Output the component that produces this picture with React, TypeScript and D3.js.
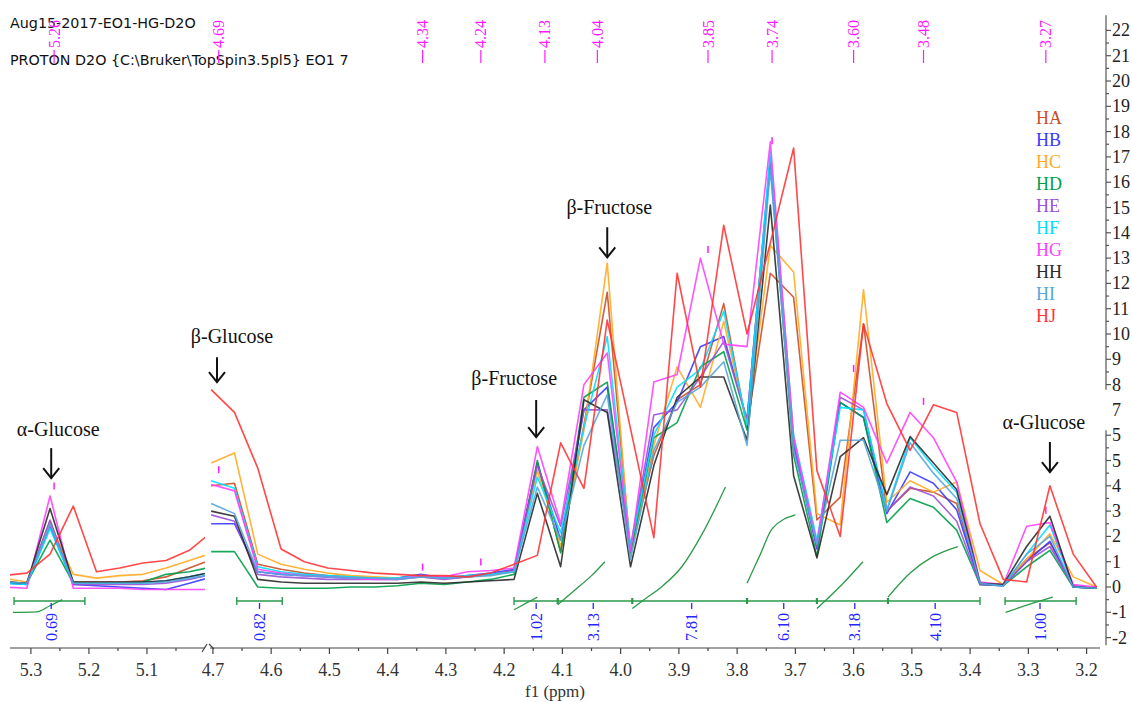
import React from "react";
import * as d3 from "d3";

// Chemical shift grid (ppm) for the two displayed windows of the spectrum
const leftPpm = [5.347, 5.307, 5.267, 5.227, 5.187, 5.147, 5.107, 5.067, 5.027, 4.987];
const rightPpm = [
  4.703, 4.663, 4.623, 4.583, 4.543, 4.503, 4.463, 4.423, 4.383, 4.343,
  4.303, 4.263, 4.223, 4.183, 4.143, 4.103, 4.063, 4.023, 3.983, 3.943,
  3.903, 3.863, 3.823, 3.783, 3.743, 3.703, 3.663, 3.623, 3.583, 3.543,
  3.503, 3.463, 3.423, 3.383, 3.343, 3.303, 3.263, 3.223, 3.183,
];

// Intensities per honey sample
const haLeft = [0.2, 0.15, 2.6, 0.2, 0.2, 0.2, 0.25, 0.4, 0.75, 1.1];
const hbLeft = [0.15, 0.1, 2.4, 0.1, 0.05, 0.0, -0.05, -0.1, 0.15, 0.4];
const hcLeft = [0.35, 0.2, 2.5, 0.5, 0.35, 0.45, 0.5, 0.75, 1.05, 1.35];
const hdLeft = [0.2, 0.15, 1.85, 0.15, 0.15, 0.15, 0.2, 0.5, 0.6, 0.8];
const heLeft = [0.2, 0.15, 2.65, 0.1, 0.1, 0.1, 0.1, 0.15, 0.3, 0.5];
const hfLeft = [0.15, 0.1, 2.3, 0.15, 0.15, 0.15, 0.15, 0.25, 0.4, 0.6];
const hgLeft = [0.0, -0.05, 3.6, -0.05, -0.05, -0.05, -0.1, -0.1, -0.1, -0.1];
const hhLeft = [0.2, 0.15, 3.1, 0.2, 0.2, 0.2, 0.2, 0.25, 0.4, 0.6];
const hiLeft = [0.2, 0.15, 2.5, 0.15, 0.15, 0.15, 0.15, 0.2, 0.35, 0.5];
const hjLeft = [0.45, 0.55, 1.3, 3.2, 0.6, 0.75, 0.95, 1.05, 1.45, 2.2];

const haRight = [4.0, 4.1, 0.9, 0.7, 0.55, 0.45, 0.4, 0.35, 0.35, 0.45, 0.35, 0.4, 0.5, 0.65, 4.9, 1.4, 6.4, 11.65, 1.4, 5.2, 7.4, 8.0, 11.2, 6.3, 12.4, 11.45, 2.65, 3.55, 10.4, 3.0, 3.9, 3.75, 3.3, 0.15, 0.1, 1.1, 1.75, 0.05, -0.05];
const hbRight = [2.5, 2.5, 0.6, 0.5, 0.45, 0.4, 0.35, 0.35, 0.35, 0.5, 0.35, 0.45, 0.55, 0.7, 4.9, 1.85, 7.0, 7.9, 1.5, 6.3, 7.3, 9.5, 9.9, 6.6, 16.9, 5.6, 1.5, 7.3, 6.7, 2.9, 4.55, 4.1, 3.05, 0.1, 0.05, 1.0, 1.8, 0.0, -0.05];
const hcRight = [4.9, 5.3, 1.3, 0.9, 0.7, 0.55, 0.45, 0.4, 0.35, 0.4, 0.35, 0.4, 0.5, 0.6, 4.6, 1.6, 6.2, 12.8, 1.2, 5.6, 8.7, 7.1, 10.5, 6.4, 13.5, 12.45, 2.9, 2.45, 11.75, 3.35, 4.2, 3.75, 4.15, 0.65, 0.1, 1.1, 2.1, 0.4, 0.0];
const hdRight = [1.4, 1.4, 0.0, -0.05, -0.05, -0.05, 0.0, 0.0, 0.05, 0.15, 0.1, 0.2, 0.3, 0.5, 5.0, 1.35, 7.5, 8.1, 1.35, 5.9, 6.5, 8.7, 9.3, 6.2, 16.8, 5.2, 1.2, 7.3, 6.7, 2.55, 3.5, 3.15, 2.25, 0.1, 0.05, 0.8, 1.45, 0.0, -0.05];
const heRight = [2.85, 2.6, 0.5, 0.4, 0.35, 0.3, 0.3, 0.3, 0.3, 0.4, 0.3, 0.4, 0.5, 0.65, 4.8, 2.4, 7.0, 7.0, 1.6, 6.8, 7.0, 8.3, 9.7, 6.6, 17.0, 5.8, 1.6, 7.5, 7.0, 3.0, 3.95, 3.6, 2.6, 0.1, 0.05, 1.0, 1.6, 0.05, -0.05];
const hfRight = [4.2, 3.9, 0.8, 0.6, 0.5, 0.45, 0.4, 0.35, 0.35, 0.45, 0.35, 0.45, 0.5, 0.6, 4.35, 2.15, 6.3, 9.9, 1.6, 6.0, 7.9, 8.6, 10.9, 6.4, 17.2, 6.0, 1.85, 7.1, 7.0, 3.05, 5.9, 4.75, 3.75, 0.15, 0.05, 1.3, 2.45, 0.0, -0.05];
const hgRight = [4.05, 3.8, 0.7, 0.55, 0.45, 0.4, 0.35, 0.3, 0.3, 0.45, 0.4, 0.6, 0.65, 0.75, 5.55, 2.5, 8.0, 9.25, 1.4, 8.1, 8.4, 13.0, 9.6, 9.5, 17.6, 5.9, 1.7, 7.7, 7.1, 4.9, 6.9, 5.9, 4.15, 0.2, 0.1, 2.4, 2.55, 0.1, 0.0];
const hhRight = [3.0, 2.8, 0.3, 0.2, 0.15, 0.15, 0.15, 0.15, 0.15, 0.2, 0.15, 0.2, 0.25, 0.3, 3.7, 0.8, 7.4, 6.9, 0.8, 4.8, 7.5, 8.3, 8.3, 5.8, 15.1, 4.4, 1.15, 5.15, 5.9, 3.65, 5.95, 4.9, 3.85, 0.15, 0.1, 1.6, 2.8, 0.0, -0.05];
const hiRight = [3.3, 2.9, 0.6, 0.5, 0.45, 0.4, 0.35, 0.35, 0.3, 0.4, 0.35, 0.4, 0.45, 0.6, 3.95, 1.85, 5.6, 7.6, 1.1, 5.4, 7.3, 7.9, 8.9, 5.6, 16.5, 5.4, 1.7, 5.8, 5.8, 3.0, 5.7, 4.5, 3.5, 0.15, 0.05, 1.3, 2.0, 0.0, -0.05];
const hjRight = [7.8, 6.9, 4.7, 1.5, 1.0, 0.75, 0.65, 0.55, 0.5, 0.45, 0.45, 0.4, 0.55, 0.9, 1.25, 5.7, 3.9, 10.55, 6.25, 1.95, 12.4, 7.9, 14.3, 10.0, 13.6, 17.35, 4.6, 2.0, 10.4, 7.25, 5.4, 7.2, 6.9, 2.5, 0.3, 0.2, 4.0, 1.3, 0.0];

const seriesNames = ["HA", "HB", "HC", "HD", "HE", "HF", "HG", "HH", "HI", "HJ"];
const seriesColors = ["#c8502a", "#3a3aff", "#ffab24", "#00a04a", "#9a52d6", "#00e0ff", "#ff40ff", "#2b2b2b", "#55a6dc", "#ff3434"];
const seriesLeft = [haLeft, hbLeft, hcLeft, hdLeft, heLeft, hfLeft, hgLeft, hhLeft, hiLeft, hjLeft];
const seriesRight = [haRight, hbRight, hcRight, hdRight, heRight, hfRight, hgRight, hhRight, hiRight, hjRight];

// Axis labels
const xTickLabelsLeft = ["5.3", "5.2", "5.1"];
const xTickLabelsRight = ["4.7", "4.6", "4.5", "4.4", "4.3", "4.2", "4.1", "4.0", "3.9", "3.8", "3.7", "3.6", "3.5", "3.4", "3.3", "3.2"];
const yTicksUpper = [8, 9, 10, 11, 12, 13, 14, 15, 16, 17, 18, 19, 20, 21, 22];
const yTicksLower = [-2, -1, 0, 1, 2, 3, 4, 5];
const yExtraValues = [6, 7];
const yExtraLabels = ["5", "7"];

// Peak picking labels (top of the spectrum)
const peakPpm = [5.26, 4.69, 4.34, 4.24, 4.13, 4.04, 3.85, 3.74, 3.6, 3.48, 3.27];
const peakMarkHeights = [3.85, 4.5, 0.65, 0.85, null, null, 13.2, 17.5, 8.5, 7.2, 2.9];

// Integration regions and values
const integralRegions = [
  { seg: "L", from: 5.329, to: 5.207, marks: [] as number[] },
  { seg: "R", from: 4.659, to: 4.581, marks: [] as number[] },
  { seg: "R", from: 4.183, to: 3.383, marks: [4.108, 3.98, 3.783, 3.663, 3.541] },
  { seg: "R", from: 3.34, to: 3.218, marks: [] as number[] },
];
const integralValues = ["0.69", "0.82", "1.02", "3.13", "7.81", "6.10", "3.18", "4.10", "1.00"];
const integralPpm = [5.265, 4.62, 4.145, 4.047, 3.878, 3.72, 3.598, 3.46, 3.28];
const integralSeg = ["L", "R", "R", "R", "R", "R", "R", "R", "R"];
const integralCurves: { seg: string; pts: [number, number][] }[] = [
  { seg: "L", pts: [[5.331, -1.0], [5.29, -0.98], [5.268, -0.75], [5.246, -0.5]] },
  { seg: "R", pts: [[4.183, -0.9], [4.163, -0.65], [4.143, -0.4]] },
  { seg: "R", pts: [[4.108, -0.7], [4.08, -0.15], [4.05, 0.45], [4.027, 1.0]] },
  { seg: "R", pts: [[3.98, -0.85], [3.96, -0.5], [3.93, 0.0], [3.895, 0.8], [3.86, 2.1], [3.82, 3.95]] },
  { seg: "R", pts: [[3.783, 0.15], [3.76, 1.3], [3.74, 2.3], [3.7, 2.85]] },
  { seg: "R", pts: [[3.663, -0.85], [3.62, 0.1], [3.584, 1.0]] },
  { seg: "R", pts: [[3.541, -0.4], [3.503, 0.55], [3.464, 1.2], [3.421, 1.6]] },
  { seg: "R", pts: [[3.339, -1.0], [3.3, -0.7], [3.258, -0.4]] },
];

// Compound annotations: arrow position (ppm), text offset, heights in intensity units
const annotations = [
  { text: "α-Glucose", seg: "L", ppm: 5.265, dx: 7, textV: 5.96, top: 5.49, bottom: 4.3 },
  { text: "β-Glucose", seg: "R", ppm: 4.693, dx: 15, textV: 9.64, top: 9.08, bottom: 8.1 },
  { text: "β-Fructose", seg: "R", ppm: 4.145, dx: -22, textV: 7.98, top: 7.39, bottom: 5.92 },
  { text: "β-Fructose", seg: "R", ppm: 4.023, dx: 2, textV: 14.73, top: 14.22, bottom: 13.03 },
  { text: "α-Glucose", seg: "R", ppm: 3.263, dx: -6, textV: 6.24, top: 5.73, bottom: 4.54 },
];

const SERIF = "'Liberation Serif', 'Times New Roman', serif";
const SANS = "'DejaVu Sans', Verdana, sans-serif";

export default function App() {
  const y = d3.scaleLinear().domain([0, 22]).range([587, 30.4]);
  const xL = d3.scaleLinear().domain([5.336, 5.0]).range([10, 205]);
  const xR = d3.scaleLinear().domain([4.705, 3.177]).range([210, 1100]);
  const xOf = (seg: string) => (seg === "L" ? xL : xR);

  const lineL = d3.line<[number, number]>().x((d) => xL(d[0])).y((d) => y(d[1]));
  const lineR = d3.line<[number, number]>().x((d) => xR(d[0])).y((d) => y(d[1]));
  const curveL = d3.line<[number, number]>().x((d) => xL(d[0])).y((d) => y(d[1])).curve(d3.curveMonotoneX);
  const curveR = d3.line<[number, number]>().x((d) => xR(d[0])).y((d) => y(d[1])).curve(d3.curveMonotoneX);

  const axisY = 648;
  const green = "#2a9a48";
  const blue = "#2626ff";
  const magenta = "#ff1aff";

  const leftMajor = xTickLabelsLeft.map(Number);
  const rightMajor = xTickLabelsRight.map(Number);
  const leftMinor = [5.25, 5.15, 5.05];
  const rightMinor = rightMajor.slice(0, -1).map((v) => +(v - 0.05).toFixed(2));

  const yAxisX = 1106;
  const upperMinor = yTicksUpper.slice(0, -1).map((v) => v + 0.5);
  const lowerMinor = yTicksLower.map((v) => v + 0.5);

  return (
    <svg
      width={1132}
      height={702}
      viewBox="0 0 1132 702"
      style={{ position: "absolute", left: 0, top: 0, background: "#fff" }}
    >
      <defs>
        <clipPath id="clipLeft">
          <rect x={10} y={0} width={195} height={702} />
        </clipPath>
        <clipPath id="clipRight">
          <rect x={210} y={0} width={890} height={702} />
        </clipPath>
      </defs>
      <rect x={0} y={0} width={1132} height={702} fill="#fff" />

      {/* header text */}
      <text x={10} y={28} fontFamily={SANS} fontSize={14.3} fill="#111">Aug15-2017-EO1-HG-D2O</text>
      <text x={10} y={65} fontFamily={SANS} fontSize={14.3} fill="#111">{"PROTON D2O {C:\\Bruker\\TopSpin3.5pl5} EO1 7"}</text>

      {/* peak labels */}
      {peakPpm.map((p, i) => {
        const px = (i === 0 ? xL : xR)(p);
        return (
          <g key={"pk" + i}>
            <line x1={px} x2={px} y1={63} y2={50} stroke={magenta} strokeWidth={1.2} />
            <text
              transform={`translate(${px},48) rotate(-90)`}
              fontFamily={SERIF}
              fontSize={16}
              fill={magenta}
              dominantBaseline="central"
              textAnchor="start"
            >
              {p.toFixed(2)}
            </text>
          </g>
        );
      })}

      {/* spectra */}
      <g clipPath="url(#clipLeft)" fill="none" strokeWidth={1.6} strokeLinejoin="round">
        {seriesLeft.map((vals, s) => (
          <path
            key={"l" + s}
            d={lineL(vals.map((v, i) => [leftPpm[i], v] as [number, number])) || ""}
            stroke={seriesColors[s]}
            strokeOpacity={0.9}
          />
        ))}
      </g>
      <g clipPath="url(#clipRight)" fill="none" strokeWidth={1.6} strokeLinejoin="round">
        {seriesRight.map((vals, s) => (
          <path
            key={"r" + s}
            d={lineR(vals.map((v, i) => [rightPpm[i], v] as [number, number])) || ""}
            stroke={seriesColors[s]}
            strokeOpacity={0.9}
          />
        ))}
      </g>

      {/* peak markers */}
      {peakPpm.map((p, i) => {
        const h = peakMarkHeights[i];
        if (h === null) return null;
        const px = (i === 0 ? xL : xR)(p);
        return <line key={"pm" + i} x1={px} x2={px} y1={y(h)} y2={y(h) - 7} stroke={magenta} strokeWidth={1.5} />;
      })}

      {/* integration bars */}
      {integralRegions.map((r, i) => {
        const sx = xOf(r.seg);
        const by = 601;
        return (
          <g key={"ib" + i} stroke={green} strokeWidth={1.4}>
            <line x1={sx(r.from)} x2={sx(r.to)} y1={by} y2={by} />
            <line x1={sx(r.from)} x2={sx(r.from)} y1={by - 4} y2={by + 4} />
            <line x1={sx(r.to)} x2={sx(r.to)} y1={by - 4} y2={by + 4} />
            {r.marks.map((m, j) => (
              <line key={j} x1={sx(m)} x2={sx(m)} y1={by - 3} y2={by + 3} strokeWidth={2.2} />
            ))}
          </g>
        );
      })}
      {integralCurves.map((c, i) => (
        <path
          key={"ic" + i}
          d={(c.seg === "L" ? curveL : curveR)(c.pts) || ""}
          fill="none"
          stroke={green}
          strokeWidth={1.3}
        />
      ))}
      {integralValues.map((t, i) => {
        const px = xOf(integralSeg[i])(integralPpm[i]);
        return (
          <g key={"iv" + i}>
            <line x1={px} x2={px} y1={603} y2={609} stroke={blue} strokeWidth={1.3} />
            <text
              transform={`translate(${px},613) rotate(-90)`}
              fontFamily={SERIF}
              fontSize={16}
              fill={blue}
              dominantBaseline="central"
              textAnchor="end"
            >
              {t}
            </text>
          </g>
        );
      })}

      {/* annotations */}
      {annotations.map((a, i) => {
        const ax = xOf(a.seg)(a.ppm);
        const yb = y(a.bottom);
        return (
          <g key={"an" + i}>
            <text x={ax + a.dx} y={y(a.textV)} fontFamily={SERIF} fontSize={20} textAnchor="middle" fill="#111">
              {a.text}
            </text>
            <line x1={ax} x2={ax} y1={y(a.top)} y2={yb} stroke="#111" strokeWidth={2} />
            <path d={`M${ax - 8},${yb - 10} L${ax},${yb} L${ax + 8},${yb - 10}`} fill="none" stroke="#111" strokeWidth={2} />
          </g>
        );
      })}

      {/* legend */}
      {seriesNames.map((n, i) => (
        <text key={"lg" + i} x={1036} y={118 + i * 22} fontFamily={SERIF} fontSize={18} fill={seriesColors[i]} dominantBaseline="central">
          {n}
        </text>
      ))}

      {/* x axis */}
      <g stroke="#444" strokeWidth={1.2}>
        <line x1={10} x2={205} y1={axisY} y2={axisY} />
        <line x1={210} x2={1100} y1={axisY} y2={axisY} />
        <line x1={202} x2={207} y1={axisY + 4} y2={axisY - 4} />
        <line x1={209} x2={214} y1={axisY - 4} y2={axisY + 1} />
        {leftMajor.map((v) => (
          <line key={"lM" + v} x1={xL(v)} x2={xL(v)} y1={axisY} y2={axisY + 6} />
        ))}
        {leftMinor.map((v) => (
          <line key={"lm" + v} x1={xL(v)} x2={xL(v)} y1={axisY} y2={axisY + 3} />
        ))}
        {rightMajor.map((v) => (
          <line key={"rM" + v} x1={xR(v)} x2={xR(v)} y1={axisY} y2={axisY + 6} />
        ))}
        {rightMinor.map((v) => (
          <line key={"rm" + v} x1={xR(v)} x2={xR(v)} y1={axisY} y2={axisY + 3} />
        ))}
      </g>
      {xTickLabelsLeft.map((t, i) => (
        <text key={"xl" + t} x={xL(leftMajor[i])} y={676} fontFamily={SERIF} fontSize={18} fill="#333" textAnchor="middle">
          {t}
        </text>
      ))}
      {xTickLabelsRight.map((t, i) => (
        <text key={"xr" + t} x={xR(rightMajor[i])} y={676} fontFamily={SERIF} fontSize={18} fill="#333" textAnchor="middle">
          {t}
        </text>
      ))}
      <text x={555} y={697} fontFamily={SERIF} fontSize={17} fill="#333" textAnchor="middle">
        f1 (ppm)
      </text>

      {/* y axis */}
      <g stroke="#555" strokeWidth={1.2}>
        <line x1={yAxisX} x2={yAxisX} y1={y(22.6)} y2={y(7.8)} />
        <line x1={yAxisX} x2={yAxisX} y1={y(6.2)} y2={y(-2.3)} />
        {yTicksUpper.map((v) => (
          <line key={"yu" + v} x1={yAxisX} x2={yAxisX + 5} y1={y(v)} y2={y(v)} />
        ))}
        {upperMinor.map((v) => (
          <line key={"yum" + v} x1={yAxisX} x2={yAxisX + 3} y1={y(v)} y2={y(v)} />
        ))}
        {yTicksLower.map((v) => (
          <line key={"yl" + v} x1={yAxisX} x2={yAxisX + 5} y1={y(v)} y2={y(v)} />
        ))}
        {lowerMinor.map((v) => (
          <line key={"ylm" + v} x1={yAxisX} x2={yAxisX + 3} y1={y(v)} y2={y(v)} />
        ))}
        <line x1={yAxisX} x2={yAxisX + 5} y1={y(6)} y2={y(6)} />
      </g>
      {yTicksUpper.map((v) => (
        <text key={"yut" + v} x={yAxisX + 6} y={y(v)} fontFamily={SERIF} fontSize={18} fill="#222" dominantBaseline="central">
          {v}
        </text>
      ))}
      {yTicksLower.map((v) => (
        <text key={"ylt" + v} x={yAxisX + 6} y={y(v)} fontFamily={SERIF} fontSize={18} fill="#222" dominantBaseline="central">
          {v}
        </text>
      ))}
      {yExtraValues.map((v, i) => (
        <text key={"yx" + v} x={yAxisX + 6} y={y(v)} fontFamily={SERIF} fontSize={18} fill="#222" dominantBaseline="central">
          {yExtraLabels[i]}
        </text>
      ))}
    </svg>
  );
}
